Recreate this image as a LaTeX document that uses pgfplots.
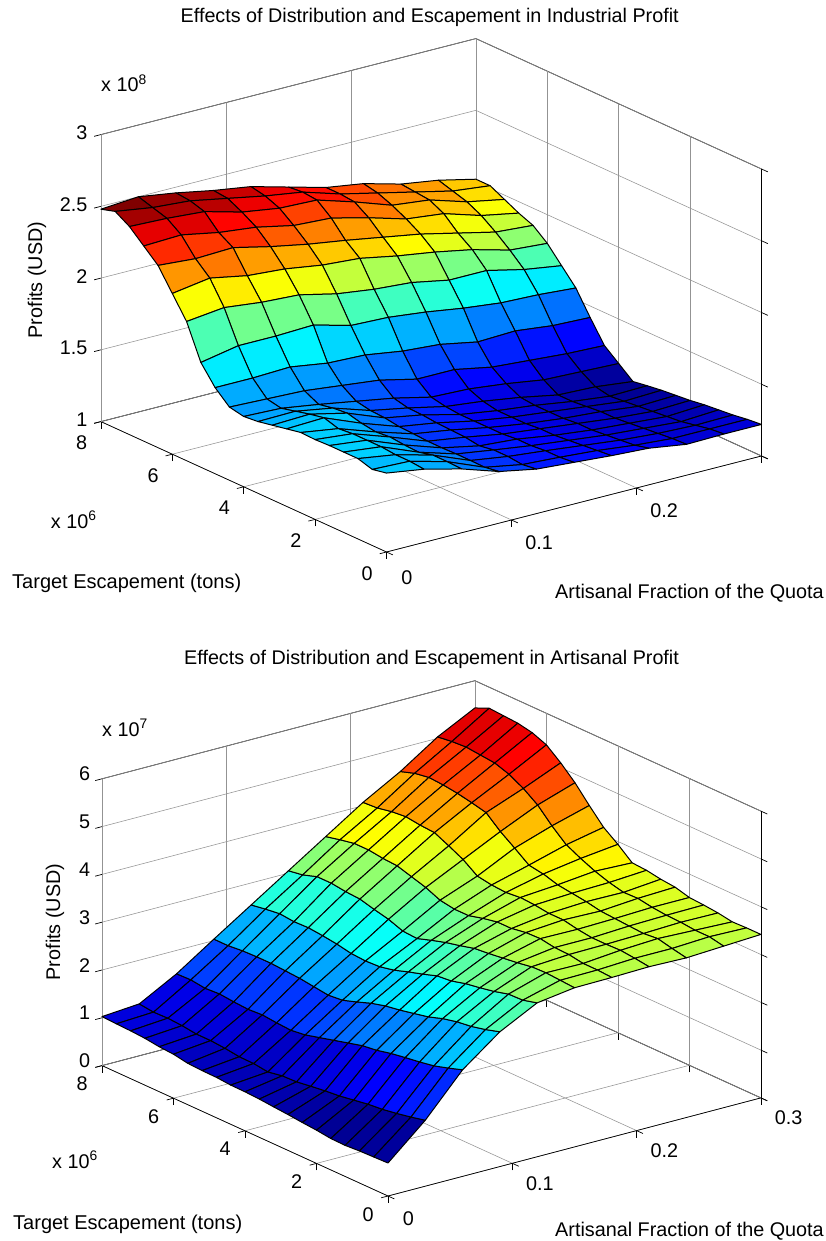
\documentclass[border=0pt]{standalone}
\usepackage{fontspec}
\setmainfont{Liberation Sans}
\usepackage{pgfplots}
\pgfplotsset{compat=1.18}
\newcommand{\lab}{\fontsize{19.8}{22}\selectfont}
\newcommand{\ttl}{\fontsize{19.75}{22}\selectfont}
\newcommand{\tgt}{\fontsize{20}{22}\selectfont}
\newcommand{\zerolab}{\hspace*{1pt}\raisebox{-3pt}[14pt][0pt]{0}}
\pgfplotstableread{
x y z
0 0 1.55
0.03 0 1.51
0.06 0 1.445
0.09 0 1.36
0.12 0 1.31
0.15 0 1.29
0.18 0 1.27
0.21 0 1.255
0.24 0 1.215
0.27 0 1.22
0.30 0 1.22
0 0.4 1.53
0.03 0.4 1.52
0.06 0.4 1.45
0.09 0.4 1.344
0.12 0.4 1.296
0.15 0.4 1.28
0.18 0.4 1.26
0.21 0.4 1.23
0.24 0.4 1.21
0.27 0.4 1.21
0.30 0.4 1.21
0 0.8 1.56
0.03 0.8 1.52
0.06 0.8 1.45
0.09 0.8 1.346
0.12 0.8 1.307
0.15 0.8 1.28
0.18 0.8 1.25
0.21 0.8 1.22
0.24 0.8 1.20
0.27 0.8 1.19
0.30 0.8 1.195
0 1.2 1.56
0.03 1.2 1.53
0.06 1.2 1.425
0.09 1.2 1.346
0.12 1.2 1.307
0.15 1.2 1.27
0.18 1.2 1.24
0.21 1.2 1.21
0.24 1.2 1.19
0.27 1.2 1.17
0.30 1.2 1.185
0 1.6 1.56
0.03 1.6 1.53
0.06 1.6 1.43
0.09 1.6 1.343
0.12 1.6 1.29
0.15 1.6 1.27
0.18 1.6 1.23
0.21 1.6 1.20
0.24 1.6 1.18
0.27 1.6 1.16
0.30 1.6 1.175
0 2.0 1.556
0.03 2.0 1.53
0.06 2.0 1.44
0.09 2.0 1.344
0.12 2.0 1.305
0.15 2.0 1.26
0.18 2.0 1.23
0.21 2.0 1.20
0.24 2.0 1.17
0.27 2.0 1.15
0.30 2.0 1.16
0 2.4 1.56
0.03 2.4 1.52
0.06 2.4 1.43
0.09 2.4 1.35
0.12 2.4 1.31
0.15 2.4 1.26
0.18 2.4 1.22
0.21 2.4 1.19
0.24 2.4 1.17
0.27 2.4 1.14
0.30 2.4 1.15
0 2.8 1.54
0.03 2.8 1.55
0.06 2.8 1.445
0.09 2.8 1.355
0.12 2.8 1.314
0.15 2.8 1.26
0.18 2.8 1.22
0.21 2.8 1.19
0.24 2.8 1.16
0.27 2.8 1.13
0.30 2.8 1.14
0 3.2 1.52
0.03 3.2 1.53
0.06 3.2 1.47
0.09 3.2 1.37
0.12 3.2 1.324
0.15 3.2 1.26
0.18 3.2 1.22
0.21 3.2 1.19
0.24 3.2 1.15
0.27 3.2 1.12
0.30 3.2 1.126
0 3.6 1.50
0.03 3.6 1.505
0.06 3.6 1.46
0.09 3.6 1.376
0.12 3.6 1.327
0.15 3.6 1.27
0.18 3.6 1.24
0.21 3.6 1.20
0.24 3.6 1.15
0.27 3.6 1.14
0.30 3.6 1.11
0 4.0 1.49
0.03 4.0 1.48
0.06 4.0 1.44
0.09 4.0 1.395
0.12 4.0 1.35
0.15 4.0 1.29
0.18 4.0 1.28
0.21 4.0 1.25
0.24 4.0 1.21
0.27 4.0 1.20
0.30 4.0 1.19
0 4.4 1.51
0.03 4.4 1.50
0.06 4.4 1.49
0.09 4.4 1.46
0.12 4.4 1.43
0.15 4.4 1.37
0.18 4.4 1.37
0.21 4.4 1.32
0.24 4.4 1.30
0.27 4.4 1.28
0.30 4.4 1.27
0 4.8 1.60
0.03 4.8 1.60
0.06 4.8 1.61
0.09 4.8 1.57
0.12 4.8 1.56
0.15 4.8 1.52
0.18 4.8 1.50
0.21 4.8 1.45
0.24 4.8 1.46
0.27 4.8 1.43
0.30 4.8 1.42
0 5.2 1.73
0.03 5.2 1.78
0.06 5.2 1.78
0.09 5.2 1.79
0.12 5.2 1.72
0.15 5.2 1.71
0.18 5.2 1.68
0.21 5.2 1.64
0.24 5.2 1.61
0.27 5.2 1.60
0.30 5.2 1.58
0 5.6 1.97
0.03 5.6 2.00
0.06 5.6 1.97
0.09 5.6 1.955
0.12 5.6 1.895
0.15 5.6 1.86
0.18 5.6 1.84
0.21 5.6 1.79
0.24 5.6 1.79
0.27 5.6 1.73
0.30 5.6 1.69
0 6.0 2.12
0.03 6.0 2.16
0.06 6.0 2.11
0.09 6.0 2.09
0.12 6.0 2.05
0.15 6.0 2.03
0.18 6.0 1.98
0.21 6.0 1.94
0.24 6.0 1.89
0.27 6.0 1.82
0.30 6.0 1.80
0 6.4 2.27
0.03 6.4 2.25
0.06 6.4 2.26
0.09 6.4 2.20
0.12 6.4 2.15
0.15 6.4 2.11
0.18 6.4 2.065
0.21 6.4 2.02
0.24 6.4 1.96
0.27 6.4 1.90
0.30 6.4 1.88
0 6.8 2.36
0.03 6.8 2.37
0.06 6.8 2.32
0.09 6.8 2.29
0.12 6.8 2.235
0.15 6.8 2.22
0.18 6.8 2.155
0.21 6.8 2.08
0.24 6.8 2.05
0.27 6.8 1.97
0.30 6.8 1.92
0 7.2 2.45
0.03 7.2 2.44
0.06 7.2 2.42
0.09 7.2 2.35
0.12 7.2 2.31
0.15 7.2 2.30
0.18 7.2 2.22
0.21 7.2 2.13
0.24 7.2 2.10
0.27 7.2 2.02
0.30 7.2 1.97
0 7.6 2.51
0.03 7.6 2.47
0.06 7.6 2.45
0.09 7.6 2.40
0.12 7.6 2.35
0.15 7.6 2.31
0.18 7.6 2.23
0.21 7.6 2.17
0.24 7.6 2.11
0.27 7.6 2.05
0.30 7.6 2.02
0 8.0 2.48
0.03 8.0 2.50
0.06 8.0 2.46
0.09 8.0 2.41
0.12 8.0 2.37
0.15 8.0 2.30
0.18 8.0 2.23
0.21 8.0 2.19
0.24 8.0 2.12
0.27 8.0 2.08
0.30 8.0 2.02
}\topdata
\pgfplotstableread{
x y z
0 0 0.69
0.03 0 1.38
0.06 0 2.23
0.09 0 2.82
0.12 0 3.22
0.15 0 3.33
0.18 0 3.34
0.21 0 3.36
0.24 0 3.34
0.27 0 3.38
0.30 0 3.42
0 0.4 0.68
0.03 0.4 1.31
0.06 0.4 2.13
0.09 0.4 2.73
0.12 0.4 3.14
0.15 0.4 3.35
0.18 0.4 3.36
0.21 0.4 3.40
0.24 0.4 3.40
0.27 0.4 3.44
0.30 0.4 3.42
0 0.8 0.67
0.03 0.8 1.25
0.06 0.8 2.04
0.09 0.8 2.66
0.12 0.8 3.13
0.15 0.8 3.37
0.18 0.8 3.36
0.21 0.8 3.43
0.24 0.8 3.47
0.27 0.8 3.44
0.30 0.8 3.41
0 1.2 0.65
0.03 1.2 1.20
0.06 1.2 1.985
0.09 1.2 2.62
0.12 1.2 3.05
0.15 1.2 3.36
0.18 1.2 3.41
0.21 1.2 3.42
0.24 1.2 3.44
0.27 1.2 3.47
0.30 1.2 3.46
0 1.6 0.657
0.03 1.6 1.17
0.06 1.6 1.94
0.09 1.6 2.55
0.12 1.6 2.99
0.15 1.6 3.31
0.18 1.6 3.42
0.21 1.6 3.42
0.24 1.6 3.46
0.27 1.6 3.48
0.30 1.6 3.49
0 2.0 0.695
0.03 2.0 1.12
0.06 2.0 1.89
0.09 2.0 2.45
0.12 2.0 2.94
0.15 2.0 3.27
0.18 2.0 3.47
0.21 2.0 3.46
0.24 2.0 3.48
0.27 2.0 3.51
0.30 2.0 3.51
0 2.4 0.72
0.03 2.4 1.07
0.06 2.4 1.82
0.09 2.4 2.385
0.12 2.4 2.86
0.15 2.4 3.23
0.18 2.4 3.46
0.21 2.4 3.52
0.24 2.4 3.50
0.27 2.4 3.56
0.30 2.4 3.59
0 2.8 0.75
0.03 2.8 1.04
0.06 2.8 1.78
0.09 2.8 2.32
0.12 2.8 2.83
0.15 2.8 3.20
0.18 2.8 3.41
0.21 2.8 3.52
0.24 2.8 3.56
0.27 2.8 3.55
0.30 2.8 3.62
0 3.2 0.774
0.03 3.2 1.00
0.06 3.2 1.70
0.09 3.2 2.27
0.12 3.2 2.73
0.15 3.2 3.12
0.18 3.2 3.41
0.21 3.2 3.56
0.24 3.2 3.60
0.27 3.2 3.62
0.30 3.2 3.67
0 3.6 0.80
0.03 3.6 0.956
0.06 3.6 1.62
0.09 3.6 2.19
0.12 3.6 2.64
0.15 3.6 3.05
0.18 3.6 3.35
0.21 3.6 3.58
0.24 3.6 3.64
0.27 3.6 3.72
0.30 3.6 3.69
0 4.0 0.816
0.03 4.0 0.945
0.06 4.0 1.54
0.09 4.0 2.08
0.12 4.0 2.54
0.15 4.0 2.96
0.18 4.0 3.27
0.21 4.0 3.55
0.24 4.0 3.73
0.27 4.0 3.85
0.30 4.0 3.94
0 4.4 0.82
0.03 4.4 0.89
0.06 4.4 1.46
0.09 4.4 1.98
0.12 4.4 2.475
0.15 4.4 2.86
0.18 4.4 3.27
0.21 4.4 3.57
0.24 4.4 3.78
0.27 4.4 4.00
0.30 4.4 4.16
0 4.8 0.845
0.03 4.8 0.93
0.06 4.8 1.42
0.09 4.8 1.95
0.12 4.8 2.46
0.15 4.8 2.88
0.18 4.8 3.32
0.21 4.8 3.62
0.24 4.8 4.00
0.27 4.8 4.26
0.30 4.8 4.48
0 5.2 0.85
0.03 5.2 0.935
0.06 5.2 1.44
0.09 5.2 1.99
0.12 5.2 2.48
0.15 5.2 2.99
0.18 5.2 3.45
0.21 5.2 3.83
0.24 5.2 4.21
0.27 5.2 4.56
0.30 5.2 4.82
0 5.6 0.866
0.03 5.6 0.975
0.06 5.6 1.47
0.09 5.6 2.03
0.12 5.6 2.54
0.15 5.6 3.06
0.18 5.6 3.54
0.21 5.6 3.98
0.24 5.6 4.47
0.27 5.6 4.77
0.30 5.6 5.10
0 6.0 0.92
0.03 6.0 1.00
0.06 6.0 1.45
0.09 6.0 2.05
0.12 6.0 2.58
0.15 6.0 3.14
0.18 6.0 3.63
0.21 6.0 4.12
0.24 6.0 4.54
0.27 6.0 4.93
0.30 6.0 5.34
0 6.4 0.94
0.03 6.4 1.00
0.06 6.4 1.47
0.09 6.4 2.07
0.12 6.4 2.61
0.15 6.4 3.16
0.18 6.4 3.65
0.21 6.4 4.14
0.24 6.4 4.60
0.27 6.4 5.03
0.30 6.4 5.46
0 6.8 0.98
0.03 6.8 1.04
0.06 6.8 1.50
0.09 6.8 2.07
0.12 6.8 2.60
0.15 6.8 3.20
0.18 6.8 3.69
0.21 6.8 4.18
0.24 6.8 4.64
0.27 6.8 5.06
0.30 6.8 5.52
0 7.2 1.00
0.03 7.2 1.06
0.06 7.2 1.48
0.09 7.2 2.06
0.12 7.2 2.63
0.15 7.2 3.20
0.18 7.2 3.69
0.21 7.2 4.15
0.24 7.2 4.66
0.27 7.2 5.09
0.30 7.2 5.54
0 7.6 1.01
0.03 7.6 1.05
0.06 7.6 1.52
0.09 7.6 2.03
0.12 7.6 2.59
0.15 7.6 3.10
0.18 7.6 3.63
0.21 7.6 4.09
0.24 7.6 4.61
0.27 7.6 5.07
0.30 7.6 5.56
0 8.0 1.025
0.03 8.0 1.086
0.06 8.0 1.51
0.09 8.0 2.03
0.12 8.0 2.54
0.15 8.0 3.05
0.18 8.0 3.56
0.21 8.0 4.07
0.24 8.0 4.51
0.27 8.0 5.03
0.30 8.0 5.43
}\botdata
\pgfplotsset{
  colormap={mjet}{rgb=(0,0,0.5) rgb=(0,0,1) rgb=(0,0.5,1) rgb=(0,1,1) rgb=(0.5,1,0.5) rgb=(1,1,0) rgb=(1,0.5,0) rgb=(1,0,0) rgb=(0.5,0,0)},
  matlab/.style={
    clip=false,
    xmin=0,xmax=0.3,ymin=0,ymax=8,
    xtick={0,0.1,0.2,0.3},ytick={0,2,4,6,8},
    yticklabels={0,2,4,6,8},
    grid=major,
    major grid style={gray!85,line width=0.55pt},
    axis line style={black,line width=0.7pt},
    tick style={black,line width=0.7pt},
    tick align=outside,
    tick pos=left,
    major tick length=7pt,
    tick label style={font=\lab},
    colormap name=mjet,
  },
  surfstyle/.style={surf,shader=flat corner,draw=black,line width=1pt,line join=round,z buffer=sort,mesh/rows=21,mesh/cols=11},
}
\begin{document}
\begin{tikzpicture}[x=1pt,y=1pt]
\useasboundingbox (0,0) rectangle (826,1241);
\begin{axis}[matlab,
  anchor=origin,at={(386.5pt,689pt)},
  x={(1250pt,320pt)},y={(-35.7pt,16.3pt)},z={(0pt,143.5pt)},
  zmin=1,zmax=3,ztick={1,1.5,2,2.5,3},zticklabels={1,1.5,2,2.5,3},
  xticklabels={\zerolab,0.1,0.2,{}},
  xticklabel style={anchor=west,xshift=4pt,yshift=-20pt},
  yticklabel style={anchor=center,xshift=-12.5pt,yshift=-19.5pt},
  zticklabel style={anchor=east,xshift=-3.5pt,yshift=-1pt},
  point meta min=1.10,point meta max=2.50]
\addplot3[surfstyle] table[x=x,y=y,z=z] {\topdata};
\end{axis}
\begin{axis}[matlab,
  anchor=origin,at={(388pt,45pt)},
  x={(1243pt,327pt)},y={(-35.75pt,16.3pt)},z={(0pt,47.8pt)},
  zmin=0,zmax=6,ztick={0,1,2,3,4,5,6},zticklabels={0,1,2,3,4,5,6},
  xticklabels={\zerolab,0.1,0.2,0.3},
  xticklabel style={anchor=west,xshift=4pt,yshift=-17pt},
  yticklabel style={anchor=center,xshift=-13pt,yshift=-16.5pt},
  zticklabel style={anchor=east,xshift=-2pt,yshift=2pt},
  point meta min=0.55,point meta max=5.56]
\addplot3[surfstyle] table[x=x,y=y,z=z] {\botdata};
\end{axis}
\tikzset{lbl/.style={inner sep=0pt,anchor=base west}}
\node[lbl,font=\ttl] at (180.5,1218.3) {Effects of Distribution and Escapement in Industrial Profit};
\node[lbl,font=\ttl] at (184,576) {Effects of Distribution and Escapement in Artisanal Profit};
\node[font=\lab,rotate=90] at (37,961) {Profits (USD)};
\node[font=\lab,rotate=90] at (55,319) {Profits (USD)};
\node[lbl,font=\lab] at (101,1149) {x 10\textsuperscript{8}};
\node[lbl,font=\lab] at (102,504.5) {x 10\textsuperscript{7}};
\node[lbl,font=\lab] at (50.7,712.7) {x 10\textsuperscript{6}};
\node[lbl,font=\lab] at (52,72.5) {x 10\textsuperscript{6}};
\node[lbl,font=\tgt] at (12,652) {Target Escapement (tons)};
\node[lbl,font=\tgt] at (13,11) {Target Escapement (tons)};
\node[lbl,font=\lab] at (555,642.3) {Artisanal Fraction of the Quota};
\node[lbl,font=\lab] at (555,4.3) {Artisanal Fraction of the Quota};
\end{tikzpicture}
\end{document}
